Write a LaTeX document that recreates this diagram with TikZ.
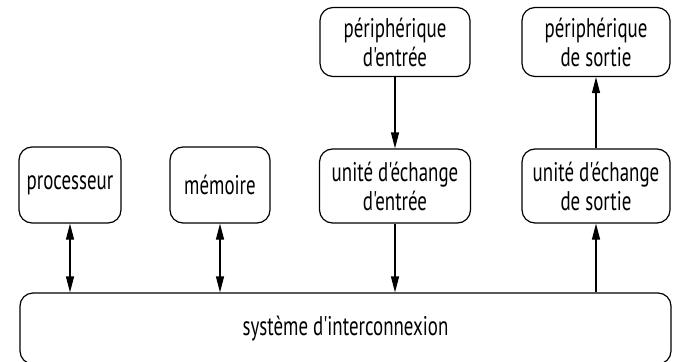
\documentclass[tikz,border=0pt]{standalone}
\usepackage{fontspec}
\usetikzlibrary{arrows.meta}

\newfontfamily\blockfont{PT Sans}[FakeStretch=0.7]

\tikzset{
    block/.style={draw, line width=1.2pt, rounded corners=13pt, align=center,
        font=\blockfont\fontsize{27}{29}\selectfont, inner sep=0pt},
    tip/.tip={Triangle[length=16pt,width=8pt]},
    link/.style={line width=1.2pt, -tip},
    dlink/.style={line width=1.2pt, tip-tip}
}

\begin{document}
\begin{tikzpicture}[x=1pt,y=-1pt]
    \useasboundingbox (0,0) rectangle (676,361);

        \begin{scope}[every node/.style={block}]
            \node[minimum width=102, minimum height=76] (cpu) at (70,185) {processeur};
            \node[minimum width=100, minimum height=76] (mem) at (220,185) {mémoire};
            \node[minimum width=151, minimum height=74] (ein) at (395,186) {unité d'échange\\d'entrée};
            \node[minimum width=148, minimum height=74] (eout) at (596,186) {unité d'échange\\de sortie};
            \node[minimum width=150, minimum height=69] (pin) at (395,42) {périphérique\\d'entrée};
            \node[minimum width=148, minimum height=69] (pout) at (596,42) {périphérique\\de sortie};
            % the bus runs past the lower edge
            \node[minimum width=651, minimum height=71] (bus) at (345.5,328.5) {système d'interconnexion};
        \end{scope}

        % bus connections
        \draw[dlink] (cpu.south) -- (cpu.south |- bus.north);
        \draw[dlink] (mem.south) -- (mem.south |- bus.north);
        \draw[link] (ein.south) -- (ein.south |- bus.north);
        \draw[link] (eout.south |- bus.north) -- (eout.south);

        % peripherals
        \draw[link] (pin.south) -- (ein.north);
        \draw[link] (eout.north) -- (pout.south);

\end{tikzpicture}
\end{document}
